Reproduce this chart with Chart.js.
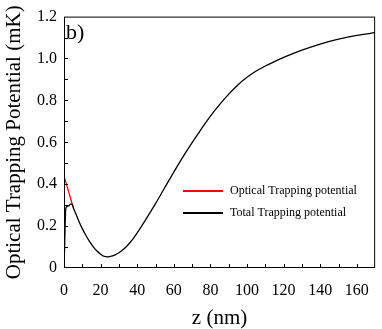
<!DOCTYPE html>
<html>
<head>
<meta charset="utf-8">
<script src="https://cdn.jsdelivr.net/npm/chart.js@4.4.1/dist/chart.umd.min.js"></script>
<style>
  html, body { margin: 0; padding: 0; background: #fff; }
  #wrap { width: 382px; height: 329px; }
</style>
</head>
<body>
<div id="wrap"><canvas id="trapChart"></canvas></div>
<script>
"use strict";

// total trapping potential (mK) vs z (nm)
var totalZ = [0, 0.4, 0.8, 1.2, 2, 3, 3.6, 4.4, 5, 6, 8, 10, 12, 14, 16, 18, 20, 22, 24, 26, 28, 30, 32, 34, 36, 38, 40, 45, 50, 55, 60, 65, 70, 75, 80, 85, 90, 95, 100, 105, 110, 115, 120, 130, 140, 150, 160, 170];
var totalV = [0, 0.12, 0.26, 0.29, 0.295, 0.3, 0.305, 0.305, 0.29, 0.268, 0.226, 0.188, 0.155, 0.126, 0.101, 0.081, 0.066, 0.0555, 0.0535, 0.0566, 0.063, 0.0726, 0.0854, 0.1014, 0.1206, 0.143, 0.168, 0.236, 0.307, 0.383, 0.458, 0.53, 0.598, 0.663, 0.725, 0.78, 0.83, 0.874, 0.91, 0.94, 0.964, 0.985, 1.005, 1.04, 1.069, 1.092, 1.11, 1.123];

// optical trapping potential, visible only near the surface
var opticalZ = [0, 1, 2, 3, 4, 5];
var opticalV = [0.44, 0.41, 0.38, 0.35, 0.32, 0.29];

var xTicks = [0, 20, 40, 60, 80, 100, 120, 140, 160];
var yTicks = [0, 0.2, 0.4, 0.6, 0.8, 1.0, 1.2];

var seriesLabels = ['Optical Trapping potential', 'Total Trapping potential'];
var seriesColors = ['#ff0000', '#000000'];

function toPoints(xs, ys) {
  return xs.map(function (x, i) { return { x: x, y: ys[i] }; });
}

var serif = '"Liberation Serif", "Times New Roman", serif';

// frame, inward ticks, panel tag and legend
var framePlugin = {
  id: 'frame',
  afterDraw: function (chart) {
    var ctx = chart.ctx;
    var a = chart.chartArea;
    var xs = chart.scales.x, ys = chart.scales.y;
    ctx.save();
    ctx.strokeStyle = '#000';
    ctx.lineWidth = 1;
    ctx.strokeRect(a.left + 0.5, a.top + 0.5, a.right - a.left - 1, a.bottom - a.top - 1);

    ctx.beginPath();
    for (var z = 10; z < 170; z += 10) {
      var px = Math.round(xs.getPixelForValue(z)) + 0.5;
      ctx.moveTo(px, a.bottom);
      ctx.lineTo(px, a.bottom - 4);
    }
    for (var k = 1; k < 12; k++) {
      var py = Math.round(ys.getPixelForValue(k / 10)) + 0.5;
      ctx.moveTo(a.left, py);
      ctx.lineTo(a.left + 4, py);
    }
    ctx.stroke();

    ctx.fillStyle = '#000';
    ctx.font = '22px ' + serif;
    ctx.textAlign = 'left';
    ctx.textBaseline = 'alphabetic';
    ctx.fillText('b)', a.left + 2, a.top + 22);

    ctx.font = '12px ' + serif;
    ctx.textBaseline = 'middle';
    var ly = [191, 213];
    for (var i = 0; i < 2; i++) {
      ctx.strokeStyle = seriesColors[i];
      ctx.lineWidth = 2;
      ctx.beginPath();
      ctx.moveTo(183, ly[i]);
      ctx.lineTo(223, ly[i]);
      ctx.stroke();
      ctx.fillText(chart.data.datasets[i].label, 230, ly[i]);
    }
    ctx.restore();
  }
};

new Chart(document.getElementById('trapChart'), {
  type: 'scatter',
  data: {
    datasets: [{
      label: seriesLabels[0],
      data: toPoints(opticalZ, opticalV),
      showLine: true,
      borderColor: seriesColors[0],
      borderWidth: 1.3,
      pointRadius: 0,
      order: 2
    }, {
      label: seriesLabels[1],
      data: toPoints(totalZ, totalV),
      showLine: true,
      borderColor: seriesColors[1],
      borderWidth: 1.3,
      pointRadius: 0,
      cubicInterpolationMode: 'monotone',
      order: 1
    }]
  },
  options: {
    responsive: true,
    maintainAspectRatio: false,
    animation: false,
    layout: { padding: { top: 13, right: 3, left: 0, bottom: 0 } },
    plugins: {
      legend: { display: false },
      tooltip: { enabled: false }
    },
    scales: {
      x: {
        type: 'linear',
        min: 0,
        max: 170,
        grid: { display: false, drawTicks: false },
        border: { display: false },
        afterBuildTicks: function (scale) {
          scale.ticks = xTicks.map(function (v) { return { value: v }; });
        },
        afterFit: function (scale) { scale.height = 61; },
        ticks: {
          color: '#000',
          padding: 13,
          maxRotation: 0,
          autoSkip: false,
          font: { family: serif, size: 16 }
        },
        title: {
          display: true,
          text: 'z (nm)',
          color: '#000',
          font: { family: serif, size: 21, lineHeight: 1 },
          padding: { top: 0, bottom: 0 }
        }
      },
      y: {
        type: 'linear',
        min: 0,
        max: 1.2,
        grid: { display: false, drawTicks: false },
        border: { display: false },
        afterBuildTicks: function (scale) {
          scale.ticks = yTicks.map(function (v) { return { value: v }; });
        },
        afterFit: function (scale) { scale.width = 64; },
        ticks: {
          color: '#000',
          padding: 7,
          autoSkip: false,
          font: { family: serif, size: 16 },
          callback: function (v) { return v === 0 ? '0' : Number(v).toFixed(1); }
        },
        title: {
          display: true,
          text: 'Optical Trapping Potential (mK)',
          color: '#000',
          font: { family: serif, size: 21, lineHeight: 1 },
          padding: { top: 4, bottom: 0 }
        }
      }
    }
  },
  plugins: [framePlugin]
});
</script>
</body>
</html>
